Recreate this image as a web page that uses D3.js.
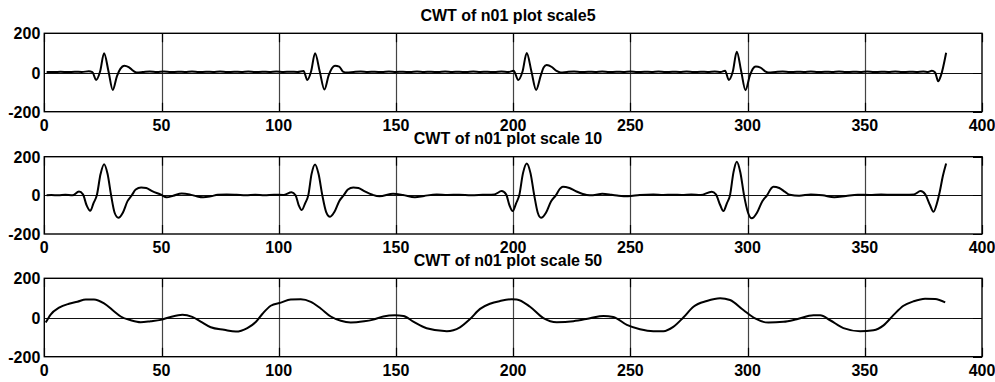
<!DOCTYPE html>
<html><head><meta charset="utf-8">
<script src="https://cdn.jsdelivr.net/npm/d3@7"></script>
<style>
html,body{margin:0;padding:0;background:#fff;}
svg text{font-family:"Liberation Sans",Arial,Helvetica,sans-serif;font-weight:bold;fill:#000;}
</style></head>
<body><svg id="chart" width="995" height="382"></svg>
<script>
const titles = ["CWT of n01 plot scale5", "CWT of n01 plot scale 10", "CWT of n01 plot scale 50"];
const xTicks = [0, 50, 100, 150, 200, 250, 300, 350, 400];
const yTicks = [-200, 0, 200];

const scale5 = [
[1,3],[4,2],[7,4],[10,2],[13,4],[16,3],[19,6],[20.5,2],[22.1,-38],[23.8,5],[25.5,98],[27.4,5],[29.2,-89],[31,-18],[32.5,20],[34.1,35],[36,28],[38,8],[39.4,0],[42,2],[45,5],[48,3],[51,5],[54,2],[57,4],[60,3],[63,5],[66,2],[69,4],[72,3],[75,5],[78,2],[81,4],[84,3],[87,5],[90,2],[93,4],[96,3],[99,5],[102,3],[105,4],[108,3],[110.6,8],[112.2,-38],[113.8,5],[115.5,98],[117.5,5],[119.5,-87],[121.3,-15],[122.7,22],[124,35],[125.8,30],[127.4,5],[129,0],[132,3],[135,5],[138,3],[141,4],[144,2],[147,5],[150,3],[153,4],[156,2],[159,5],[162,3],[165,4],[168,2],[171,5],[174,3],[177,4],[180,2],[183,5],[186,3],[189,4],[192,2],[195,5],[198,3],[200.2,9],[202.2,-38],[204,5],[205.8,100],[207.8,5],[209.8,-89],[211.8,-15],[213,25],[214.3,38],[216.5,28],[218.5,8],[220.3,0],[223,3],[226,5],[229,2],[232,4],[235,3],[238,5],[241,2],[244,4],[247,3],[250,5],[253,2],[256,4],[259,3],[262,5],[265,2],[268,4],[271,3],[274,5],[277,2],[280,4],[283,3],[286,5],[288.5,3],[290.4,9],[292,-38],[293.7,5],[295.4,106],[297.3,5],[299.1,-90],[301,-15],[302.3,20],[303.5,30],[305.5,25],[307.5,6],[308.9,0],[312,3],[315,5],[318,2],[321,4],[324,3],[327,5],[330,2],[333,4],[336,3],[339,5],[342,2],[345,4],[348,3],[351,5],[354,2],[357,4],[360,3],[363,5],[366,2],[369,4],[372,3],[375,5],[377,3],[378.6,9],[380,0],[381.3,-45],[382.5,-15],[384.7,101]
];

const scale10 = [
[1,0],[3,2],[6,0],[9,3],[12,0],[14.8,20],[16.5,5],[18,-50],[19.6,-80],[21,-40],[22.4,0],[24,110],[25.5,161],[27,110],[28.5,0],[30,-90],[31.6,-116],[33.5,-90],[35.5,-30],[37.3,0],[39,30],[41.3,41],[43.5,38],[46,22],[49.8,3],[52.2,-10],[55,-2],[58.6,10],[62,5],[65,-5],[67.8,-10],[71,-5],[74,3],[77.8,5],[82,3],[86,0],[90,3],[94,0],[98,3],[102,2],
[105.5,16],[107.2,0],[108.5,-50],[109.8,-76],[111.3,-40],[112.6,0],[114,110],[115.5,160],[117,110],[118.6,0],[120.2,-85],[121.9,-111],[123.8,-85],[125.8,-30],[127.7,0],[129.5,30],[131.8,41],[134,38],[136.5,22],[140,3],[143,-5],[148.8,8],[153,2],[158.1,-10],[162,-3],[167.4,5],[172,2],[177,3],[182,1],[187,3],[192,5],
[195.1,22],[197,5],[198.4,-50],[199.8,-81],[201.3,-40],[202.6,0],[204.2,115],[205.8,165],[207.4,115],[209,0],[210.5,-90],[211.9,-116],[214,-90],[216.2,-30],[218.2,0],[220,35],[221.2,45],[224,38],[227,20],[231.4,2],[234,0],[238,8],[242,3],[245,-2],[249,-5],[254,2],[259.8,5],[264,2],[268,3],[272,2],[276,4],[280,2],
[284.7,19],[286.5,5],[288.3,-50],[289.7,-81],[291.2,-40],[292.5,0],[294,120],[295.4,174],[296.9,120],[298.5,0],[300.2,-90],[301.8,-119],[304,-90],[306.3,-30],[308.3,0],[310,35],[311,45],[313.5,38],[316,18],[318,3],[322,-2],[327,5],[332,0],[337,-10],[342,-3],[347,3],[352,2],[357,4],[362,3],[367,3],[371,5],
[373.8,22],[375.8,5],[377.8,-50],[379.3,-85],[380.8,-40],[382,20],[383.3,100],[384.7,165]
];

const scale50 = [
[0.6,-26],[2.7,15],[6.3,50],[10.5,70],[14.1,80],[17.7,92],[21.2,92],[25.5,72],[29.7,32],[32.6,5],[36.9,-14],[41.1,-24],[45.4,-19],[49.7,-12],[53.9,3],[58.9,14],[63.1,3],[66.7,-21],[71,-50],[76.7,-63],[81.7,-72],[86.6,-54],[90.2,-23],[93,18],[96.6,60],[100.9,76],[105.1,92],[109.4,93],[113.7,80],[117.9,46],[122.2,5],[126.5,-17],[130.7,-25],[136.4,-19],[139.9,-12],[144.6,5],[149.6,11],[153.2,8],[157.4,-21],[163.1,-55],[171.7,-70],[177.3,-50],[181.6,-8],[185.9,44],[190.1,70],[194.4,84],[199.4,93],[201.5,92],[207.2,55],[212.9,-3],[218.6,-24],[225.7,-19],[232.8,-4],[238.5,8],[242.7,3],[248.5,-38],[254.1,-60],[259.8,-70],[264.1,-70],[268.3,-48],[272.6,0],[276.9,55],[282.6,84],[288.3,98],[292.5,89],[298.2,38],[303.2,-5],[308.9,-26],[315.3,-22],[321,-9],[328.1,11],[331,11],[335.2,-14],[340.9,-54],[348,-70],[353.7,-65],[358,-40],[362.2,12],[366.5,60],[370.7,82],[375.7,96],[380,94],[384.3,77]
];

const series = [scale5, scale10, scale50];
const panels = [
  {top: 33.3, bottom: 111.7, titleY: 20.5},
  {top: 156.7, bottom: 234, titleY: 143.5},
  {top: 278.3, bottom: 356.7, titleY: 266}
];
const left = 44.3, right = 982;
const svg = d3.select("#chart");
const x = d3.scaleLinear().domain([0, 400]).range([left, right]);

panels.forEach((p, i) => {
  const y = d3.scaleLinear().domain([-200, 200]).range([p.bottom, p.top]);
  const g = svg.append("g");
  g.selectAll(".vg").data(xTicks.slice(1, -1)).join("line")
    .attr("x1", d => Math.round(x(d)) + 0.5).attr("x2", d => Math.round(x(d)) + 0.5)
    .attr("y1", p.top).attr("y2", p.bottom)
    .attr("stroke", "#444").attr("stroke-width", 1.2);
  g.append("line").attr("x1", left).attr("x2", right)
    .attr("y1", Math.round(y(0)) + 0.5).attr("y2", Math.round(y(0)) + 0.5)
    .attr("stroke", "#111").attr("stroke-width", 1.1);
  const tl = 9;
  g.selectAll(".tb").data(xTicks).join("line")
    .attr("x1", d => Math.round(x(d)) + 0.5).attr("x2", d => Math.round(x(d)) + 0.5)
    .attr("y1", p.bottom).attr("y2", p.bottom - tl).attr("stroke", "#000").attr("stroke-width", 1.2);
  g.selectAll(".tt").data(xTicks).join("line")
    .attr("x1", d => Math.round(x(d)) + 0.5).attr("x2", d => Math.round(x(d)) + 0.5)
    .attr("y1", p.top).attr("y2", p.top + tl).attr("stroke", "#000").attr("stroke-width", 1.2);
  g.selectAll(".tr").data(yTicks).join("line")
    .attr("x1", right - tl).attr("x2", right)
    .attr("y1", d => Math.round(y(d)) + 0.5).attr("y2", d => Math.round(y(d)) + 0.5).attr("stroke", "#000");
  g.append("rect").attr("x", left).attr("y", p.top)
    .attr("width", right - left).attr("height", p.bottom - p.top)
    .attr("fill", "none").attr("stroke", "#000").attr("stroke-width", 1.4);
  const line = d3.line().x(d => x(d[0])).y(d => y(d[1])).curve(d3.curveMonotoneX);
  g.append("path").datum(series[i]).attr("d", line)
    .attr("fill", "none").attr("stroke", "#000").attr("stroke-width", 2)
    .attr("stroke-linejoin", "round");
  g.selectAll(".xl").data(xTicks).join("text")
    .attr("x", d => x(d)).attr("y", p.bottom + 19)
    .attr("text-anchor", "middle").attr("font-size", 16).text(d => d);
  g.selectAll(".yl").data(yTicks).join("text")
    .attr("x", left - 4).attr("y", d => y(d) + 6)
    .attr("text-anchor", "end").attr("font-size", 16).text(d => d);
  svg.append("text").attr("x", 508).attr("y", p.titleY)
    .attr("text-anchor", "middle").attr("font-size", 16).text(titles[i]);
});
</script></body></html>
